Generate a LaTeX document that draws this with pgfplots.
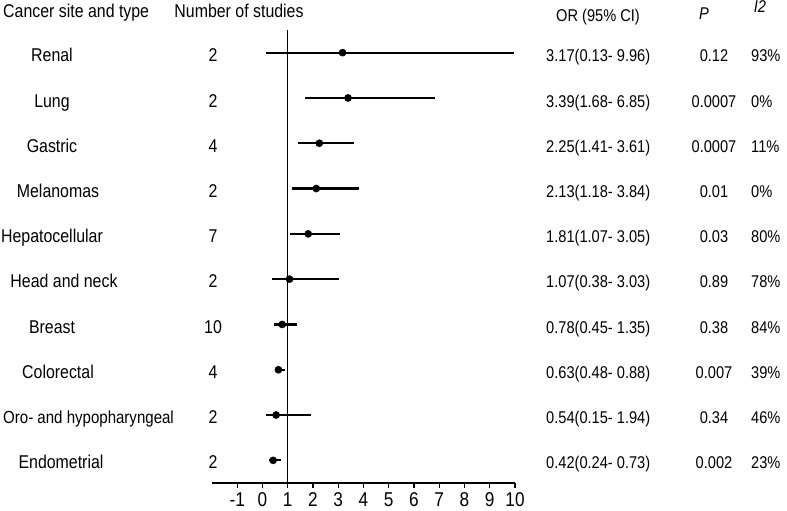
\documentclass[border=0pt]{standalone}
\usepackage{pgfplots}
\pgfplotsset{compat=1.18}
\usepackage{pgfplotstable}
\usepackage{fontspec}
\setmainfont{Liberation Sans}[FakeStretch=0.86]

% odds ratios with 95% CI, row 10 = top (Renal)
\pgfplotstableread{
row or   lo   hi
10  3.17 0.13 9.96
9   3.39 1.68 6.85
8   2.25 1.41 3.61
7   2.13 1.18 3.84
6   1.81 1.07 3.05
5   1.07 0.38 3.03
4   0.78 0.45 1.35
3   0.63 0.48 0.88
2   0.54 0.15 1.94
1   0.42 0.24 0.73
}\ordata

\newcommand{\lab}{\fontsize{18.5}{20}\selectfont}
\newcommand{\val}{\fontsize{17}{19}\selectfont}

\begin{document}
\begin{tikzpicture}
\useasboundingbox (0pt,0pt) rectangle (787pt,511pt);
\begin{axis}[
    at={(212pt,28pt)}, anchor=south west,
    scale only axis, width=303pt, height=453pt,
    xmin=-2, xmax=10, ymin=0.5, ymax=10.5,
    axis x line*=bottom, hide y axis,
    x axis line style={-, line width=1.1pt},
    xtick={-1,0,...,10},
    tick align=outside, major tick length=5pt,
    tick style={line width=1.1pt, black},
    xticklabel style={font=\fontsize{20}{22}\selectfont, yshift=-1.5pt},
    /pgf/number format/assume math mode=true,
    clip=false,
]
\addplot[black, line width=1.2pt] coordinates {(1,0.5) (1,10.5)};
\addplot[black, only marks, mark=*, mark size=3.6pt,
    error bars/.cd, x dir=both, x explicit, error mark=none,
    error bar style={line width=2.2pt, black}]
    table[x=or, y=row,
      x error plus expr=\thisrow{hi}-\thisrow{or},
      x error minus expr=\thisrow{or}-\thisrow{lo}] \ordata;
\end{axis}

% headers
\node[anchor=base west, inner sep=0] at (3pt,493pt) {\lab Cancer site and type};
\node[anchor=base, inner sep=0] at (239pt,493pt) {\lab Number of studies};
\node[anchor=base, inner sep=0] at (598pt,489pt) {\val OR (95\% CI)};
\node[anchor=base, inner sep=0] at (704pt,491pt) {\val\itshape P};
\node[anchor=base, inner sep=0] at (760pt,498pt) {\val\itshape I2};

% rows
\foreach \i/\cx/\name/\n/\ci/\p/\isq in {
  0/52/Renal/2/3.17(0.13- 9.96)/0.12/93\%,
  1/52/Lung/2/3.39(1.68- 6.85)/0.0007/0\%,
  2/52/Gastric/4/2.25(1.41- 3.61)/0.0007/11\%,
  3/58/Melanomas/2/2.13(1.18- 3.84)/0.01/0\%,
  4/52/Hepatocellular/7/1.81(1.07- 3.05)/0.03/80\%,
  5/64/Head and neck/2/1.07(0.38- 3.03)/0.89/78\%,
  6/52/Breast/10/0.78(0.45- 1.35)/0.38/84\%,
  7/58/Colorectal/4/0.63(0.48- 0.88)/0.007/39\%,
  8/0/{}/2/0.54(0.15- 1.94)/0.34/46\%,
  9/61/Endometrial/2/0.42(0.24- 0.73)/0.002/23\%}{
  \pgfmathsetmacro{\yb}{449-\i*45.2}
  \node[anchor=base, inner sep=0] at (\cx pt,\yb pt) {\lab \name};
  \node[anchor=base, inner sep=0] at (213pt,\yb pt) {\lab \n};
  \node[anchor=base west, inner sep=0] at (546pt,\yb pt) {\val \ci};
  \node[anchor=base, inner sep=0] at (714pt,\yb pt) {\val \p};
  \node[anchor=base west, inner sep=0] at (751pt,\yb pt) {\val \isq};
}
\node[anchor=base west, inner sep=0] at (3pt,{449pt-8*45.2pt}) {\fontsize{17.5}{19}\selectfont Oro- and hypopharyngeal};
\end{tikzpicture}
\end{document}
